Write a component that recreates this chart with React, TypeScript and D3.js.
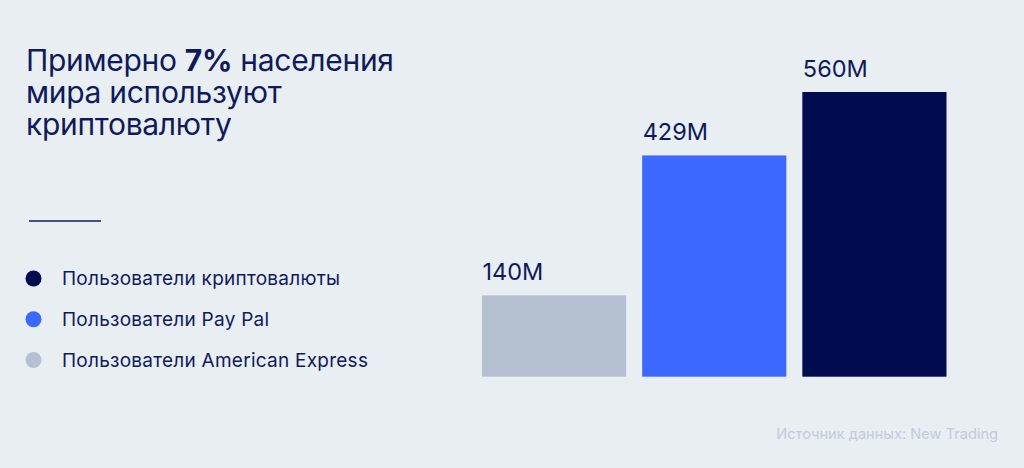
import React from 'react';
import * as d3 from 'd3';

// bars, left to right
const categories = ['American Express', 'Pay Pal', 'Crypto'];
const values = [140, 429, 560];
const valueLabels = ['140M', '429M', '560M'];
const barColors = ['#b5c0d0', '#3d68ff', '#000c4f'];

// legend, top to bottom
const legendLabels = [
  'Пользователи криптовалюты',
  'Пользователи Pay Pal',
  'Пользователи American Express',
];
const legendColors = ['#000c4f', '#3d68ff', '#b5c0d0'];

const W = 1024;
const H = 468;
const navy = '#0e1a5c';
const font = "Inter, 'Noto Sans', sans-serif";

export default function App() {
  const x = d3.scaleBand<string>()
    .domain(categories)
    .range([482, 946.5])
    .paddingInner(0.1)
    .paddingOuter(0);

  // baseline sits a little below zero, as in the original artwork
  const y = d3.scaleLinear()
    .domain([-28, 560])
    .range([376.7, 92]);

  const legendY = d3.scalePoint<string>()
    .domain(legendLabels)
    .range([278.5, 360]);

  return (
    <svg width={W} height={H} style={{ position: 'fixed', left: 0, top: 0, display: 'block' }}>
      <rect width={W} height={H} fill="#e9eef3" />

      {/* title, one text block with three lines */}
      <text x={26} y={71} fontFamily={font} fontSize={30} fill={navy} letterSpacing={-0.3}>
        <tspan x={26}>
          Примерно <tspan fontWeight={700}>7%</tspan> населения
        </tspan>
        <tspan x={26} dy={32}>мира используют</tspan>
        <tspan x={26} dy={32}>криптовалюту</tspan>
      </text>

      <line x1={29} x2={101} y1={221} y2={221} stroke={navy} strokeWidth={1.3} />

      {/* legend */}
      <g fontFamily={font} fontSize={19} fill={navy} letterSpacing={0.25}>
        {legendLabels.map((l, i) => (
          <g key={l} transform={`translate(0,${legendY(l)})`}>
            <circle cx={33.5} cy={0} r={8} fill={legendColors[i]} />
            <text x={62} y={6.8}>{l}</text>
          </g>
        ))}
      </g>

      {/* bars */}
      {categories.map((c, i) => (
        <g key={c}>
          <rect
            x={x(c)}
            y={y(values[i])}
            width={x.bandwidth()}
            height={y(-28) - y(values[i])}
            fill={barColors[i]}
          />
          <text
            x={(x(c) as number) + 0.5}
            y={y(values[i]) - 15.5}
            fontFamily={font}
            fontSize={23.5}
            fill={navy}
          >
            {valueLabels[i]}
          </text>
        </g>
      ))}

      <text x={998} y={439} textAnchor="end" fontFamily={font} fontSize={14.6} fill="#c3cbd8">
        Источник данных: New Trading
      </text>
    </svg>
  );
}
